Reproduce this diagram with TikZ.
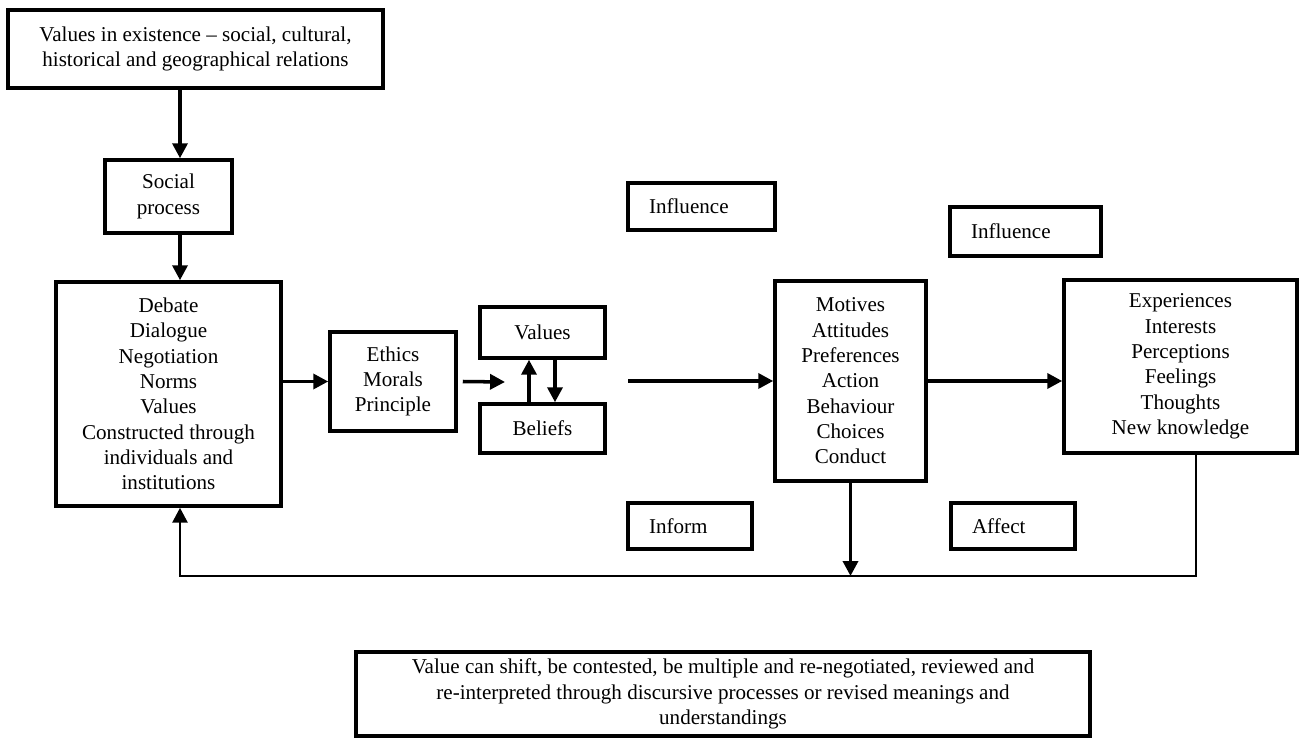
\documentclass[tikz,border=0pt]{standalone}
\usepackage{fontspec}
\setmainfont{Liberation Serif}
\usetikzlibrary{arrows.meta,positioning}

\begin{document}
\begin{tikzpicture}[
        box/.style={draw, rectangle, line width=2pt, align=center, inner sep=0pt, font=\fontsize{12}{14.4}\selectfont},
        tag/.style={box, align=left, text width=#1, inner xsep=0.42cm},
        arr/.style={-{Triangle[length=8.5pt,width=8.5pt]}, line width=2pt}
    ]
        \useasboundingbox (0,0) rectangle (26.06,-14.96);
        % top of the chain
        \node[box, minimum width=7.5cm, minimum height=1.56cm] (exist) at (3.91,-0.98) {Values in existence -- social, cultural,\\historical and geographical relations};
        \node[box, minimum width=2.54cm, minimum height=1.46cm] (social) at (3.37,-3.93) {Social\\process};
        \node[box, minimum width=4.5cm, minimum height=4.48cm] (debate) at (3.37,-7.88) {Debate\\Dialogue\\Negotiation\\Norms\\Values\\Constructed through\\individuals and\\institutions};
        \node[box, minimum width=2.52cm, minimum height=1.98cm] (ethics) at (7.86,-7.63) {Ethics\\Morals\\Principle};
        \node[box, minimum width=2.5cm, minimum height=1.02cm] (values) at (10.85,-6.65) {Values};
        \node[box, minimum width=2.5cm, minimum height=0.98cm] (beliefs) at (10.85,-8.57) {Beliefs};
        \node[box, minimum width=3.02cm, minimum height=4cm] (motives) at (17.01,-7.62) {Motives\\Attitudes\\Preferences\\Action\\Behaviour\\Choices\\Conduct};
        \node[box, minimum width=4.66cm, minimum height=3.46cm] (exper) at (23.61,-7.33) {Experiences\\Interests\\Perceptions\\Feelings\\Thoughts\\New knowledge};
        % small labels
        \node[tag=2.1cm, minimum height=0.94cm] (influA) at (14.03,-4.13) {Influence};
        \node[tag=2.18cm, minimum height=0.98cm] (influB) at (20.51,-4.63) {Influence};
        \node[tag=1.64cm, minimum height=0.92cm] (inform) at (13.8,-10.52) {Inform};
        \node[tag=1.64cm, minimum height=0.92cm] (affect) at (20.26,-10.52) {Affect};
        \node[box, minimum width=14.68cm, minimum height=1.68cm] (shift) at (14.46,-13.88) {Value can shift, be contested, be multiple and re-negotiated, reviewed and\\re-interpreted through discursive processes or revised meanings and\\understandings};

        \coordinate (spine) at (3.6,0);
        \coordinate (gap) at (10.1,-7.64);
        \coordinate (lead) at (12.56,-7.62);
        \coordinate (base) at (3.6,-11.52);

        \draw[arr] (exist.south -| spine) -- (social.north -| spine);
        \draw[arr] (social.south -| spine) -- (debate.north -| spine);
        \draw[arr] (debate.east |- ethics.west) -- (ethics.west);
        \draw[arr] ([xshift=0.1cm]ethics.east) -- (gap);
        \draw[arr] ([xshift=-0.27cm]beliefs.north) -- ([xshift=-0.27cm]values.south);
        \draw[arr] ([xshift=0.25cm]values.south) -- ([xshift=0.25cm]beliefs.north);
        \draw[arr] (lead) -- (lead -| motives.west);
        \draw[arr] (motives.east |- lead) -- (lead -| exper.west);
        \draw[arr] (motives.south) -- (motives.south |- base);
        \draw[arr, line width=1.6pt] ([xshift=0.31cm]exper.south) |- (base) -- (debate.south -| base);
    \end{tikzpicture}
\end{document}
